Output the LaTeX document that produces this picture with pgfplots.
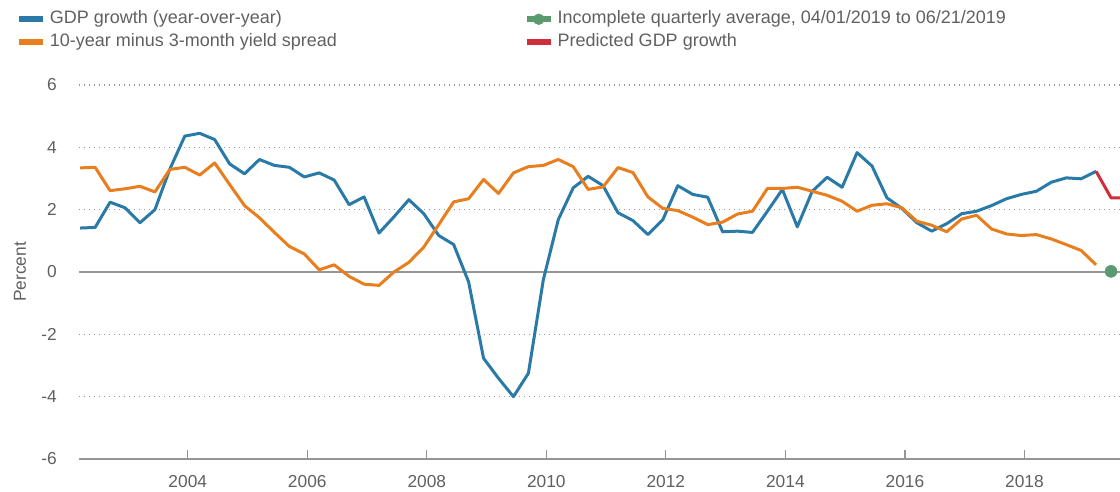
\documentclass[border=0pt]{standalone}
\usepackage{fontspec}
\setmainfont{Liberation Sans}
\usepackage{pgfplots}
\pgfplotsset{compat=1.18}
\definecolor{gdpblue}{RGB}{42,122,168}
\definecolor{spreadorange}{RGB}{232,126,30}
\definecolor{incgreen}{RGB}{90,154,110}
\definecolor{predred}{RGB}{208,46,58}
\definecolor{txt}{RGB}{96,96,96}
\definecolor{axgray}{RGB}{150,150,150}
\begin{document}
\begin{tikzpicture}
\useasboundingbox (-59.25pt,-24.75pt) rectangle (780.75pt,344.25pt);
\begin{axis}[
  scale only axis,
  width=780.75pt, height=280.5pt,
  xmin=2002.18, xmax=2019.6,
  ymin=-6, ymax=6,
  xtick={2004,2006,...,2018},
  ytick={-4,-2,2,4,6},
  extra y ticks={-6,0},
  extra y tick style={grid style={solid, axgray, line width=1.8pt}},
  xticklabels={2004,2006,2008,2010,2012,2014,2016,2018},
  /pgf/number format/assume math mode=true,
  axis line style={draw=none},
  ymajorgrids,
  grid style={axgray, line width=1.1pt, dash pattern=on 1.1pt off 2.65pt},
  xtick pos=bottom,
  tick align=inside,
  major tick length=6.75pt,
  xtick style={axgray, line width=0.9pt},
  ytick style={draw=none},
  tick label style={font=\fontsize{13}{15}\selectfont, text=txt},
  yticklabel style={anchor=east, inner sep=0pt, xshift=-16.5pt},
  xticklabel style={anchor=north, inner sep=0pt, yshift=-12pt},
  ylabel={Percent},
  every axis y label/.style={at={(axis description cs:-0.0567,0.5)}, rotate=90, anchor=center, font=\fontsize{13}{15}\selectfont, text=txt},
  legend columns=2,
  legend cell align=left,
  legend style={
    at={(-0.0606,1.198)}, anchor=north west,
    draw=none, fill=none, inner sep=0pt, outer sep=0pt,
    row sep=4.75pt,
    /tikz/every odd column/.style={column sep=3pt},
    /tikz/column 2/.style={column sep=140pt},
    nodes={inner sep=0pt, text height=9.5pt, text depth=3pt},
    font=\fontsize{13.5}{16}\selectfont, text=txt,
  },
]
\addplot[gdpblue, line width=2.25pt, line join=round, forget plot] coordinates {
(2002.20,1.41) (2002.45,1.43) (2002.70,2.24) (2002.95,2.06) (2003.20,1.58) (2003.45,2.00)
(2003.70,3.30) (2003.95,4.36) (2004.20,4.45) (2004.45,4.25) (2004.70,3.47) (2004.95,3.15)
(2005.20,3.61) (2005.45,3.42) (2005.70,3.36) (2005.95,3.05) (2006.20,3.18) (2006.45,2.95)
(2006.70,2.16) (2006.95,2.41) (2007.20,1.25) (2007.45,1.77) (2007.70,2.32) (2007.95,1.87)
(2008.20,1.17) (2008.45,0.88) (2008.70,-0.32) (2008.95,-2.77) (2009.20,-3.41) (2009.45,-4.00)
(2009.70,-3.25) (2009.95,-0.25) (2010.20,1.68) (2010.45,2.70) (2010.70,3.07) (2010.95,2.77)
(2011.20,1.90) (2011.45,1.65) (2011.70,1.20) (2011.95,1.68) (2012.20,2.77) (2012.45,2.49)
(2012.70,2.40) (2012.95,1.29) (2013.20,1.31) (2013.45,1.27) (2013.70,1.95) (2013.95,2.65)
(2014.20,1.45) (2014.45,2.59) (2014.70,3.04) (2014.95,2.72) (2015.20,3.83) (2015.45,3.40)
(2015.70,2.38) (2015.95,2.04) (2016.20,1.58) (2016.45,1.31) (2016.70,1.55) (2016.95,1.87)
(2017.20,1.95) (2017.45,2.13) (2017.70,2.35) (2017.95,2.49) (2018.20,2.59) (2018.45,2.88)
(2018.70,3.02) (2018.95,2.99) (2019.20,3.23)
};
\addplot[spreadorange, line width=2.25pt, line join=round, forget plot] coordinates {
(2002.20,3.34) (2002.45,3.36) (2002.70,2.61) (2002.95,2.67) (2003.20,2.75) (2003.45,2.57)
(2003.70,3.29) (2003.95,3.36) (2004.20,3.11) (2004.45,3.50) (2004.70,2.81) (2004.95,2.13)
(2005.20,1.74) (2005.45,1.27) (2005.70,0.82) (2005.95,0.58) (2006.20,0.07) (2006.45,0.23)
(2006.70,-0.14) (2006.95,-0.39) (2007.20,-0.43) (2007.45,0.00) (2007.70,0.31) (2007.95,0.80)
(2008.20,1.52) (2008.45,2.25) (2008.70,2.35) (2008.95,2.97) (2009.20,2.52) (2009.45,3.18)
(2009.70,3.38) (2009.95,3.42) (2010.20,3.61) (2010.45,3.38) (2010.70,2.65) (2010.95,2.73)
(2011.20,3.35) (2011.45,3.19) (2011.70,2.41) (2011.95,2.04) (2012.20,1.97) (2012.45,1.76)
(2012.70,1.52) (2012.95,1.60) (2013.20,1.86) (2013.45,1.95) (2013.70,2.68) (2013.95,2.68)
(2014.20,2.72) (2014.45,2.59) (2014.70,2.46) (2014.95,2.27) (2015.20,1.95) (2015.45,2.14)
(2015.70,2.19) (2015.95,2.06) (2016.20,1.63) (2016.45,1.50) (2016.70,1.29) (2016.95,1.70)
(2017.20,1.82) (2017.45,1.38) (2017.70,1.22) (2017.95,1.17) (2018.20,1.20) (2018.45,1.06)
(2018.70,0.88) (2018.95,0.69) (2019.20,0.23)
};
\addplot[predred, line width=2.25pt, line join=round, forget plot] coordinates {
(2019.20,3.23) (2019.45,2.38) (2019.70,2.38)
};
\addplot[only marks, mark=*, mark size=4.5pt, incgreen, mark options={draw=incgreen, fill=incgreen}, forget plot] coordinates {
(2019.45,0.02)
};
\addlegendimage{legend image code/.code={\draw[gdpblue, line width=4.5pt] (0pt,0pt) -- (18pt,0pt);}}
\addlegendentry{GDP growth (year-over-year)}
\addlegendimage{legend image code/.code={\draw[incgreen, line width=4.5pt] (0pt,0pt) -- (18pt,0pt); \fill[incgreen] (9pt,0pt) circle (4pt);}}
\addlegendentry{Incomplete quarterly average, 04/01/2019 to 06/21/2019}
\addlegendimage{legend image code/.code={\draw[spreadorange, line width=4.5pt] (0pt,0pt) -- (18pt,0pt);}}
\addlegendentry{10-year minus 3-month yield spread}
\addlegendimage{legend image code/.code={\draw[predred, line width=4.5pt] (0pt,0pt) -- (18pt,0pt);}}
\addlegendentry{Predicted GDP growth}
\end{axis}
\end{tikzpicture}
\end{document}
